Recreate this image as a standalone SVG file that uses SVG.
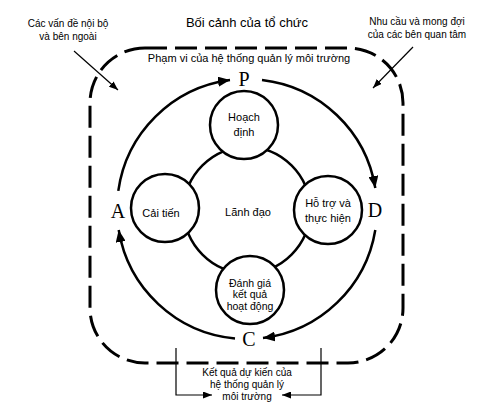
<svg xmlns="http://www.w3.org/2000/svg" width="491" height="415" viewBox="0 0 491 415">
<defs>
<marker id="big" markerUnits="userSpaceOnUse" markerWidth="12" markerHeight="10" refX="12" refY="5" orient="auto"><path d="M0,0 L12,5 L0,10 z" fill="#000"/></marker>
<marker id="small" markerUnits="userSpaceOnUse" markerWidth="9" markerHeight="7" refX="9" refY="3.5" orient="auto"><path d="M0,0 L9,3.5 L0,7 z" fill="#000"/></marker>
</defs>
<style>
.t{font-family:"Liberation Sans",Arial,sans-serif;fill:#000;text-anchor:middle}
.L{font-family:"Liberation Serif","Times New Roman",serif;font-size:20px;fill:#000;text-anchor:middle}
.node{fill:#fff;stroke:#000;stroke-width:2.5}
.cyc{fill:none;stroke:#000;stroke-width:2.5;marker-end:url(#big)}
.thin{fill:none;stroke:#000;stroke-width:1.2}
</style>
<rect width="491" height="415" fill="#fff"/>
<g id="context">
<rect x="90" y="48" width="313" height="315" rx="55" ry="55" fill="none" stroke="#000" stroke-width="3" stroke-dasharray="22 8"/>
<text class="t" x="247" y="27" font-size="13">Bối cảnh của tổ chức</text>
<text class="t" x="249" y="62" font-size="11">Phạm vi của hệ thống quản lý môi trường</text>
</g>
<g id="connectors">
<path class="cyc" d="M118.3,190.9 A130,130 0 0 1 230,80.1"/>
<path class="cyc" d="M262,79.9 A130,130 0 0 1 375.3,188"/>
<path class="cyc" d="M375.3,230 A130,130 0 0 1 263,338"/>
<path class="cyc" d="M235,338.4 A130,130 0 0 1 118.7,230"/>
<line class="thin" x1="74" y1="51" x2="118" y2="90" marker-end="url(#small)"/>
<line class="thin" x1="413" y1="47" x2="373" y2="88" marker-end="url(#small)"/>
<path class="thin" d="M176,348 V395 H212" marker-end="url(#small)"/>
<path class="thin" d="M321,348 V395 H282" marker-end="url(#small)"/>
<circle cx="247" cy="210" r="63" fill="none" stroke="#000" stroke-width="2.5"/>
</g>
<g id="labels-pdca">
<text class="L" x="244" y="86">P</text>
<text class="L" x="375" y="217">D</text>
<text class="L" x="118" y="218">A</text>
<text class="L" x="249" y="346">C</text>
</g>
<g id="issues">
<text class="t" x="68" y="27" font-size="10">Các vấn đề nội bộ</text>
<text class="t" x="68" y="40" font-size="10">và bên ngoài</text>
</g>
<g id="needs">
<text class="t" x="417" y="25" font-size="10">Nhu cầu và mong đợi</text>
<text class="t" x="417" y="38" font-size="10">của các bên quan tâm</text>
</g>
<g id="results">
<text class="t" x="247" y="376" font-size="10">Kết quả dự kiến của</text>
<text class="t" x="247" y="388" font-size="10">hệ thống quản lý</text>
<text class="t" x="247" y="400" font-size="10">môi trường</text>
</g>
<g id="leadership">
<text class="t" x="248" y="216" font-size="11">Lãnh đạo</text>
</g>
<g id="plan">
<circle class="node" cx="244" cy="125" r="34"/>
<text class="t" x="244" y="121" font-size="11">Hoạch</text>
<text class="t" x="244" y="136" font-size="11">định</text>
</g>
<g id="support">
<circle class="node" cx="328" cy="210" r="34"/>
<text class="t" x="328" y="207" font-size="11">Hỗ trợ và</text>
<text class="t" x="328" y="222" font-size="11">thực hiện</text>
</g>
<g id="improve">
<circle class="node" cx="165" cy="208" r="34"/>
<text class="t" x="161" y="217" font-size="11">Cải tiến</text>
</g>
<g id="evaluate">
<circle class="node" cx="250" cy="290" r="34"/>
<text class="t" x="250" y="287" font-size="10.5">Đánh giá</text>
<text class="t" x="250" y="298" font-size="10.5">kết quả</text>
<text class="t" x="250" y="310" font-size="10.5">hoạt động</text>
</g>
</svg>
